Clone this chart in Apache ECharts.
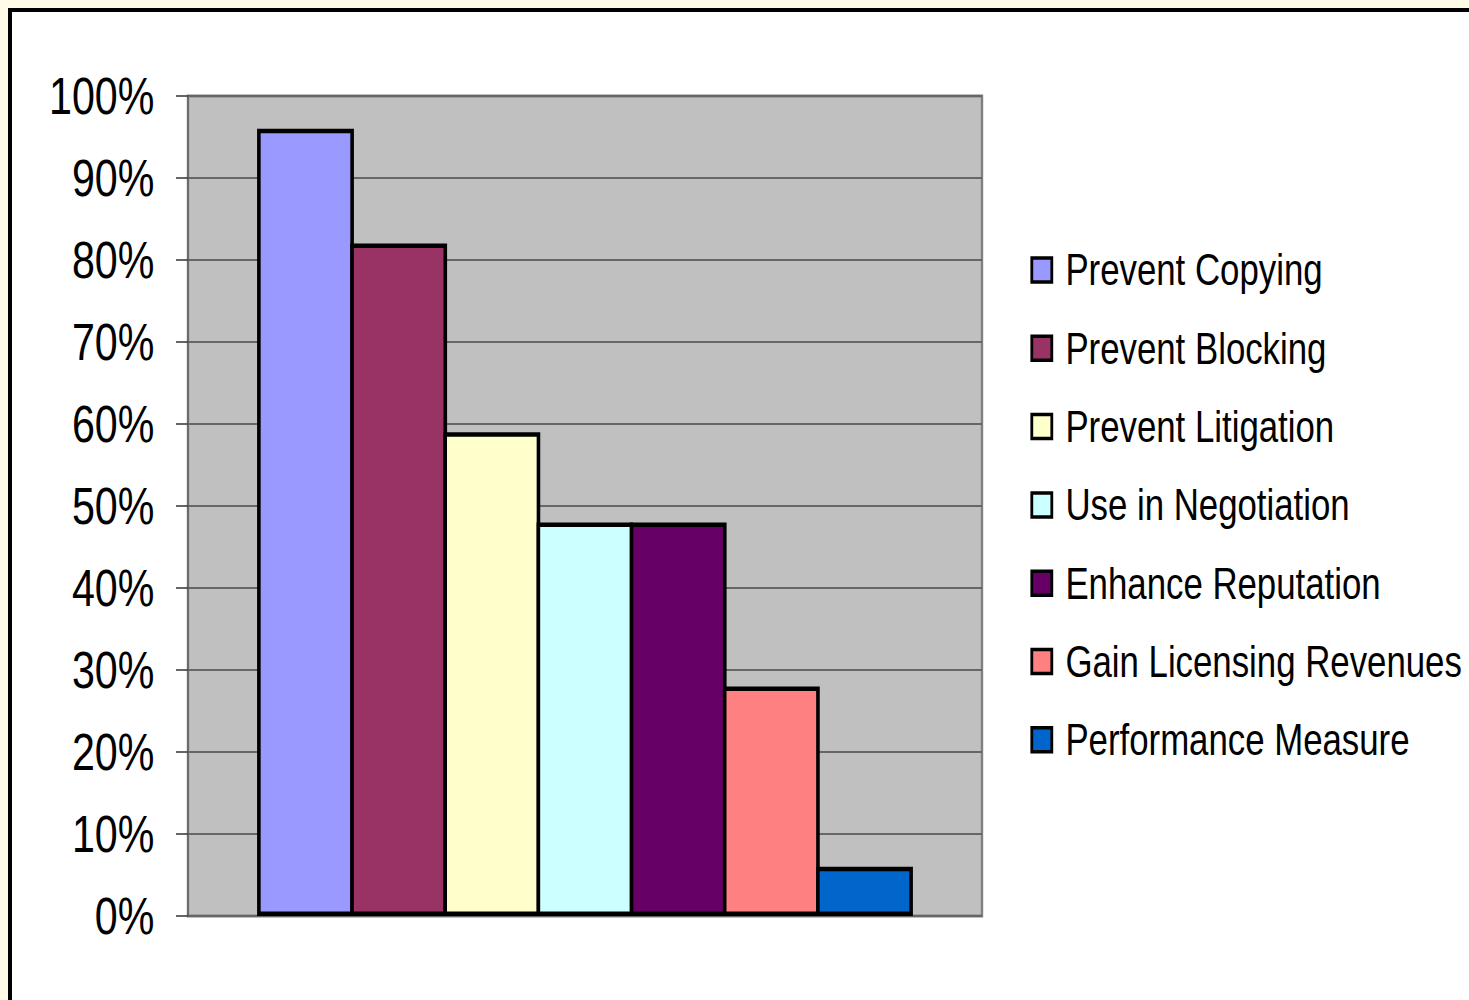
<!DOCTYPE html>
<html>
<head>
<meta charset="utf-8">
<script src="https://cdn.jsdelivr.net/npm/echarts@6/dist/echarts.min.js"></script>
<style>
  html, body {
    margin: 0;
    padding: 0;
    width: 1469px;
    height: 1000px;
    overflow: hidden;
    background: #fffbe6;
  }
  .frame {
    position: absolute;
    left: 8px;
    top: 8px;
    width: 1500px;
    height: 1100px;
    border: 4px solid #000;
    background: #fff;
  }
  /* the original is a horizontally squeezed Excel chart, so draw wide and squeeze */
  #chart {
    position: absolute;
    left: 0;
    top: 0;
    width: 1836px;
    height: 1000px;
    transform: scaleX(0.8);
    transform-origin: 0 0;
  }
</style>
</head>
<body>
<div class="frame"></div>
<div id="chart"></div>
<script>
const categories = ['']
const seriesNames = [
  'Prevent Copying',
  'Prevent Blocking',
  'Prevent Litigation',
  'Use in Negotiation',
  'Enhance Reputation',
  'Gain Licensing Revenues',
  'Performance Measure'
]
const seriesValues = [0.96, 0.82, 0.59, 0.48, 0.48, 0.28, 0.06]
const seriesColors = ['#9999ff', '#993366', '#ffffcc', '#ccffff', '#660066', '#ff8080', '#0066cc']
const tickLabels = ['0%', '10%', '20%', '30%', '40%', '50%', '60%', '70%', '80%', '90%', '100%']

const font = '"Liberation Sans", Arial, sans-serif'

const chart = echarts.init(document.getElementById('chart'), null, { renderer: 'svg' })
const option = {
  animation: false,
  backgroundColor: 'transparent',
  grid: {
    left: 235,
    top: 96,
    width: 992.5,
    height: 820,
    show: true,
    backgroundColor: '#c0c0c0',
    borderColor: '#808080',
    borderWidth: 3
  },
  legend: {
    orient: 'vertical',
    left: 1283,
    top: 240,
    itemWidth: 25,
    itemHeight: 24,
    itemGap: 28.3,
    icon: 'rect',
    itemStyle: {
      borderColor: '#000',
      borderWidth: 3.5
    },
    textStyle: {
      fontFamily: font,
      fontSize: 43.5,
      color: '#000',
      lineHeight: 50,
      padding: [0, 0, 0, 12]
    },
    data: seriesNames
  },
  xAxis: {
    type: 'category',
    data: categories,
    axisLine: { show: false },
    axisTick: { show: false },
    axisLabel: { show: false }
  },
  yAxis: {
    type: 'value',
    min: 0,
    max: 1,
    interval: 0.1,
    axisLine: { show: true, lineStyle: { color: '#666', width: 2 } },
    axisTick: { show: true, inside: false, length: 15, lineStyle: { color: '#333', width: 1.5 } },
    splitLine: { show: true, lineStyle: { color: '#666', width: 2 } },
    axisLabel: {
      margin: 42,
      fontFamily: font,
      fontSize: 51.5,
      color: '#000',
      formatter: function (v) {
        return tickLabels[Math.round(v * 10)]
      }
    }
  },
  series: seriesNames.map(function (name, i) {
    return {
      name: name,
      type: 'bar',
      data: [seriesValues[i]],
      // slight overlap so neighbouring borders merge into one line
      barGap: '-3.8%',
      barCategoryGap: '17.4%',
      itemStyle: {
        color: seriesColors[i],
        borderColor: '#000',
        borderWidth: 4.5
      }
    }
  })
}
chart.setOption(option)
</script>
</body>
</html>
